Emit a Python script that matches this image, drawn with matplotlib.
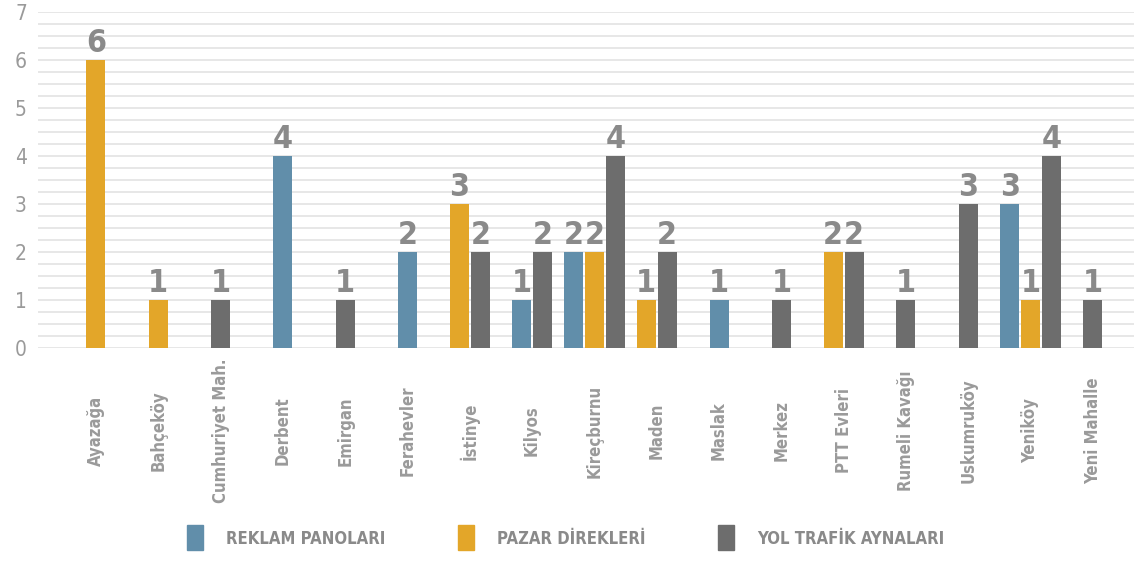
import numpy as np
import matplotlib.pyplot as plt
from matplotlib import font_manager
from matplotlib.patches import Rectangle
from matplotlib.transforms import blended_transform_factory

# pick a narrow font if one is installed
names = {f.name for f in font_manager.fontManager.ttflist}
if "Liberation Sans Narrow" in names:
    fam = "Liberation Sans Narrow"
    stretch = "normal"
else:
    fam = "DejaVu Sans"
    stretch = "condensed"
plt.rcParams["font.family"] = fam
plt.rcParams["font.stretch"] = stretch

mahalleler = ["Ayazağa", "Bahçeköy", "Cumhuriyet Mah.", "Derbent", "Emirgan",
              "Ferahevler", "İstinye", "Kilyos", "Kireçburnu", "Maden", "Maslak",
              "Merkez", "PTT Evleri", "Rumeli Kavağı", "Uskumruköy", "Yeniköy",
              "Yeni Mahalle"]
reklam = [0, 0, 0, 4, 0, 2, 0, 1, 2, 0, 1, 0, 0, 0, 0, 3, 0]
pazar = [6, 1, 0, 0, 0, 0, 3, 0, 2, 1, 0, 0, 2, 0, 0, 1, 0]
ayna = [0, 0, 1, 0, 1, 0, 2, 2, 4, 2, 0, 1, 2, 1, 3, 4, 1]

seriler = ["REKLAM PANOLARI", "PAZAR DİREKLERİ", "YOL TRAFİK AYNALARI"]
renkler = ["#618eaa", "#e3a629", "#6d6d6d"]
degerler = [reklam, pazar, ayna]

fig = plt.figure(figsize=(11.34, 5.61), dpi=100)
ax = fig.add_axes([38 / 1134, 1 - 348 / 561, 1 - 38 / 1134, 336 / 561])

genislik = 0.305
aralik = 0.337
for i in range(len(mahalleler)):
    dolu = [s for s in range(3) if degerler[s][i] > 0]
    for k, s in enumerate(dolu):
        x = i + (k - (len(dolu) - 1) / 2) * aralik
        v = degerler[s][i]
        ax.bar(x, v, width=genislik, color=renkler[s], zorder=3)
        ax.text(x, v + 0.03, str(v), ha="center", va="bottom", fontsize=23,
                fontweight="bold", color="#8a8a8a", zorder=4)

ax.set_xlim(-0.93, 16.66)
ax.set_ylim(0, 7)
ax.set_yticks(np.arange(0, 7.01, 0.25), minor=True)
ax.set_yticks(range(0, 8))
ax.grid(axis="y", which="both", color="#e3e3e3", linewidth=1.2, zorder=0)
ax.tick_params(axis="y", which="both", length=0, labelsize=15, labelcolor="#9a9a9a", pad=8)
ax.set_xticks([])
for sp in ax.spines.values():
    sp.set_visible(False)
for t in ax.get_yticklabels():
    t.set_fontweight("light")

tr = blended_transform_factory(ax.transData, ax.transAxes)
for i, ad in enumerate(mahalleler):
    ax.text(i, -0.247, ad, transform=tr, rotation=90, ha="center", va="center",
            fontsize=12, fontweight="bold", color="#9a9a9a")

# legend drawn by hand along the bottom
lx = [187, 458, 718]
for s in range(3):
    fig.patches.append(Rectangle((lx[s] / 1134, 1 - 550 / 561), 16 / 1134, 25 / 561,
                                 transform=fig.transFigure, color=renkler[s]))
    fig.text((lx[s] + 39) / 1134, 1 - 539 / 561, seriler[s], ha="left", va="center",
             fontsize=12, fontweight="bold", color="#8a8a8a")

fig.savefig("out.png", dpi=100)
